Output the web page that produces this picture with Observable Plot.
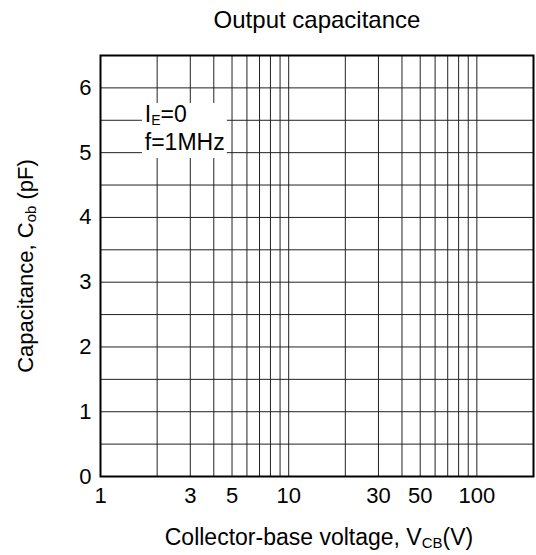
<!DOCTYPE html>
<html><head><meta charset="utf-8">
<script src="https://cdn.jsdelivr.net/npm/d3@7"></script>
<script src="https://cdn.jsdelivr.net/npm/@observablehq/plot@0.6"></script>
<style>body{margin:0;background:#fff}</style>
</head><body><div id="chart"></div>
<script>
const title = "Output capacitance";
const xDomain = [1, 200];
const yDomain = [0, 6.5];
const xTicks = [1, 3, 5, 10, 30, 50, 100];
const yTicks = [0, 1, 2, 3, 4, 5, 6];
const xGrid = [2, 3, 4, 5, 6, 7, 8, 9, 10, 20, 30, 40, 50, 60, 70, 80, 90, 100];
const yGrid = [0.5, 1, 1.5, 2, 2.5, 3, 3.5, 4, 4.5, 5, 5.5, 6];
const noteBox = [{x1: 1.67, x2: 4.72, y1: 4.91, y2: 5.76}];
const noteLines = [
  {x: 1.73, y: 5.47, main: "I", sub: "E", rest: "=0"},
  {x: 1.73, y: 5.03, main: "f=1MHz", sub: "", rest: ""}
];
const xLabel = {main: "Collector-base voltage, V", sub: "CB", rest: "(V)"};
const yLabel = {main: "Capacitance, C", sub: "ob", rest: " (pF)"};

const font = "'Liberation Sans', Arial, Helvetica, sans-serif";
const W = 536, H = 555;

const plot = Plot.plot({
  width: W, height: H,
  marginLeft: 100, marginRight: 3, marginTop: 55, marginBottom: 79,
  style: {fontFamily: font, fontSize: "22px", color: "#000", background: "#fff"},
  x: {type: "log", domain: xDomain, ticks: xTicks, tickFormat: d => String(d), tickSize: 0, tickPadding: 11, label: null},
  y: {domain: yDomain, ticks: yTicks, tickFormat: d => String(d), tickSize: 0, tickPadding: 9, label: null},
  marks: [
    Plot.ruleX(xGrid, {stroke: "#222", strokeWidth: 1}),
    Plot.ruleY(yGrid, {stroke: "#222", strokeWidth: 1}),
    Plot.rect(noteBox, {x1: "x1", x2: "x2", y1: "y1", y2: "y2", fill: "#fff"}),
    Plot.frame({stroke: "#000", strokeWidth: 2})
  ]
});
document.getElementById("chart").appendChild(plot);

const sx = plot.scale("x").apply, sy = plot.scale("y").apply;
const svg = d3.select(plot);

function rich(sel, d, subSize, shift) {
  sel.append("tspan").text(d.main);
  if (d.sub) {
    sel.append("tspan").attr("font-size", subSize).attr("dy", shift).text(d.sub);
    sel.append("tspan").attr("dy", -shift).text(d.rest);
  }
}

// title
svg.append("text").attr("x", 317).attr("y", 28).attr("text-anchor", "middle")
  .attr("font-size", 24).attr("font-family", font).attr("fill", "#000").text(title);

// annotation
for (const d of noteLines) {
  const t = svg.append("text").attr("x", sx(d.x)).attr("y", sy(d.y)).attr("text-anchor", "start")
    .attr("font-size", 23).attr("font-family", font).attr("fill", "#000");
  rich(t, d, 14, 3);
}

// x label
const xl = svg.append("text").attr("x", 319).attr("y", 545).attr("text-anchor", "middle")
  .attr("font-size", 23).attr("font-family", font).attr("fill", "#000");
rich(xl, xLabel, 15, 3);

// y label
const yl = svg.append("text").attr("transform", "translate(33,266) rotate(-90)").attr("text-anchor", "middle")
  .attr("font-size", 22).attr("font-family", font).attr("fill", "#000");
rich(yl, yLabel, 15, 3);
</script>
</body></html>
